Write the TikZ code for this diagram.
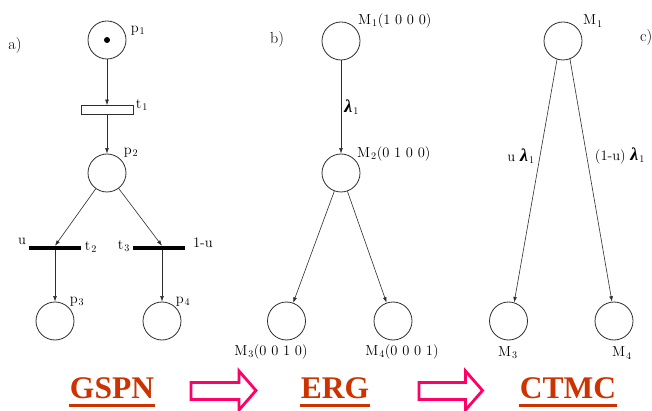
\documentclass[tikz,border=0pt]{standalone}
\usepackage{fontspec}
\newfontfamily\titlefont{Liberation Serif}
\usetikzlibrary{arrows.meta}
\definecolor{ttlcol}{RGB}{204,51,0}
\definecolor{arrcol}{RGB}{255,0,102}
\definecolor{lncol}{RGB}{45,45,45}
\newcommand\sbs[1]{\kern1pt\textsubscript{#1}}
\newcommand\lam{{\titlefont\bfseries\itshape\fontsize{18}{18}\selectfont λ}}
\begin{document}
\begin{tikzpicture}[x=1pt,y=-1pt,
  place/.style={circle,draw=lncol,line width=0.8pt,minimum size=38pt,inner sep=0pt},
  tokendot/.style={circle,fill=black,minimum size=6pt,inner sep=0pt},
  timedtr/.style={draw=lncol,fill=white,line width=0.6pt,minimum width=52pt,minimum height=9pt,inner sep=0pt},
  immtr/.style={fill=black,minimum width=52pt,minimum height=4pt,inner sep=0pt},
  lbl/.style={font=\fontsize{14.5}{16}\selectfont,text=black,inner sep=0pt},
  tag/.style={font=\fontsize{16}{18}\selectfont,inner sep=0pt},
  arc/.style={draw=lncol,line width=0.6pt,-{Latex[length=5.5pt,width=3.8pt]}},
  ttl/.style={font=\titlefont\bfseries\fontsize{31.5}{34}\selectfont,text=ttlcol,inner sep=0pt,anchor=base},
  ulin/.style={draw=ttlcol,line width=3pt},
  blk/.style={draw=arrcol,line width=2.8pt,fill=white,line join=miter}]
\clip (0,0) rectangle (652,411);
\fill[white] (0,0) rectangle (652,411);

% ---------- a) GSPN ----------
\node[tag] (la) at (15,46) {a)};
\node[place] (p1) at (107,40) {};
\node[tokendot] (tok) at (107,40) {};
\node[timedtr] (t1) at (107,110) {};
\node[place] (p2) at (107,173) {};
\node[immtr] (t2) at (55,248) {};
\node[immtr] (t3) at (158.5,248) {};
\node[place] (p3) at (55,321) {};
\node[place] (p4) at (162,321) {};

\node[lbl] (lp1) at (138,31) {p\sbs{1}};
\node[lbl] (lt1) at (142,105) {t\sbs{1}};
\node[lbl] (lp2) at (131,153) {p\sbs{2}};
\node[lbl] (lu) at (22,241) {u};
\node[lbl] (lt2) at (91,247) {t\sbs{2}};
\node[lbl] (lt3) at (124,246) {t\sbs{3}};
\node[lbl] (l1u) at (203,243) {1-u};
\node[lbl] (lp3) at (77,302) {p\sbs{3}};
\node[lbl] (lp4) at (183,302) {p\sbs{4}};

\draw[arc] (p1) -- (t1);
\draw[arc] (t1) -- (p2);
\draw[arc] (p2) -- (t2.north -| p3);
\draw[arc] (p2) -- (t3.north -| p4);
\draw[arc] (t2.south -| p3) -- (p3);
\draw[arc] (t3.south -| p4) -- (p4);

% ---------- b) ERG ----------
\node[tag] (lb) at (277,40) {b)};
\node[place] (E1) at (341,41) {};
\node[place] (E2) at (341,173) {};
\node[place] (E3) at (286.5,321) {};
\node[place] (E4) at (393,321) {};
\node[lbl,anchor=west] (lE1) at (358,21) {M\sbs{1}(1 0 0 0)};
\node[lbl,anchor=west] (lE2) at (357,154) {M\sbs{2}(0 1 0 0)};
\node[lbl] (lE3) at (271,352) {M\sbs{3}(0 0 1 0)};
\node[lbl] (lE4) at (402,352) {M\sbs{4}(0 0 0 1)};
\draw[arc] (E1) -- node[lbl,right=3pt] (lam) {\lam\sbs{1}} (E2);
\draw[arc] (E2) -- (E3);
\draw[arc] (E2) -- (E4);

% ---------- c) CTMC ----------
\node[tag,anchor=west] (lc) at (640,38) {c)};
\node[place] (C1) at (563,41) {};
\node[place] (C3) at (508.5,321) {};
\node[place] (C4) at (614,321) {};
\node[lbl] (lC1) at (593,21) {M\sbs{1}};
\node[lbl] (lC3) at (508,353) {M\sbs{3}};
\node[lbl] (lC4) at (622,353) {M\sbs{4}};
\draw[arc] (C1.252) -- (C3.73);
\draw[arc] (C1.291) -- (C4.96);
\node[lbl] (lr1) at (521,156) {u \lam\sbs{1}};
\node[lbl] (lr2) at (620,156) {(1-u) \lam\sbs{1}};

% ---------- bottom row ----------
\node[ttl] (gspn) at (112,398) {GSPN};
\node[ttl] (erg) at (335,398) {ERG};
\node[ttl] (ctmc) at (568,398) {CTMC};
\draw[ulin] ([xshift=-1pt,yshift=-7pt]gspn.base west) -- ([xshift=1pt,yshift=-7pt]gspn.base east);
\draw[ulin] ([xshift=-1pt,yshift=-7pt]erg.base west) -- ([xshift=1pt,yshift=-7pt]erg.base east);
\draw[ulin] ([xshift=-1pt,yshift=-7pt]ctmc.base west) -- ([xshift=1pt,yshift=-7pt]ctmc.base east);

\draw[blk] (191,382.5) -- (239,382.5) -- (239,371) -- (256,390.5) -- (239,410) -- (239,399.5) -- (191,399.5) -- cycle;
\draw[blk] (419,382.5) -- (465.5,382.5) -- (465.5,371) -- (482.5,390.5) -- (465.5,410) -- (465.5,399.5) -- (419,399.5) -- cycle;
\end{tikzpicture}
\end{document}
